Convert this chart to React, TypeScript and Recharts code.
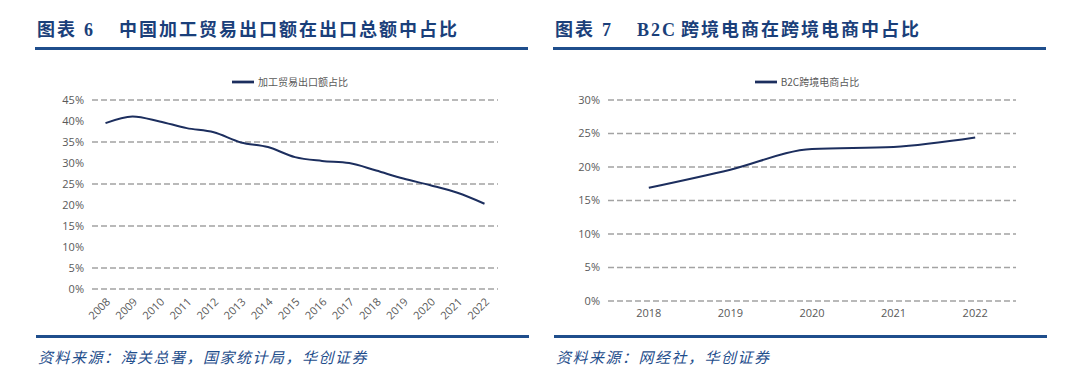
import React from "react";
import {
  LineChart,
  Line,
  XAxis,
  YAxis,
  CartesianGrid,
  Legend,
} from "recharts";

/* ---------------- DATA ---------------- */
const leftYears = [
  "2008", "2009", "2010", "2011", "2012", "2013", "2014", "2015",
  "2016", "2017", "2018", "2019", "2020", "2021", "2022",
];
const processingShare = [
  39.5, 41.1, 39.9, 38.3, 37.3, 34.9, 33.8, 31.4, 30.5, 30.0, 28.2, 26.3, 24.7, 22.9, 20.3,
];
const leftTicks = [0, 5, 10, 15, 20, 25, 30, 35, 40, 45];

const rightYears = ["2018", "2019", "2020", "2021", "2022"];
const b2cShare = [16.9, 19.6, 22.7, 23.0, 24.4];
const rightTicks = [0, 5, 10, 15, 20, 25, 30];

const leftData = leftYears.map((year, i) => ({ year, value: processingShare[i] }));
const rightData = rightYears.map((year, i) => ({ year, value: b2cShare[i] }));

/* ---------------- STYLE ---------------- */
const NAVY = "#1c2e5e";
const BLUE = "#1f4e8c";
const GRID = "#a3a3a3";
const TICK = { fill: "#595959", fontSize: 11, fontFamily: "'Open Sans', 'Noto Sans CJK SC'" };
const pct = (v: number) => `${v}%`;

function Title({ left, num, text }: { left: number; num: string; text: React.ReactNode }) {
  return (
    <>
      <div
        style={{
          position: "absolute",
          left,
          top: 21,
          fontSize: 18,
          lineHeight: "18px",
          fontWeight: 700,
          color: "#1a3f7a",
          letterSpacing: 2,
          whiteSpace: "nowrap",
          fontFamily: "'Liberation Serif', 'Noto Sans CJK SC'",
        }}
      >
        <span>图表</span>
        <span style={{ marginLeft: 7 }}>{num}</span>
        <span style={{ marginLeft: 24 }}>{text}</span>
      </div>
      <div style={{ position: "absolute", left: left - 2, top: 47, width: 493, height: 3, background: BLUE }} />
    </>
  );
}

function Footer({ left, text }: { left: number; text: string }) {
  return (
    <>
      <div style={{ position: "absolute", left: left - 2, top: 335, width: 493, height: 3, background: BLUE }} />
      <div
        style={{
          position: "absolute",
          left,
          top: 348,
          fontSize: 15,
          lineHeight: "18px",
          fontStyle: "italic",
          color: BLUE,
          letterSpacing: 1.5,
          whiteSpace: "nowrap",
          fontFamily: "'Noto Sans CJK SC'",
        }}
      >
        {text}
      </div>
    </>
  );
}

const legendStyle = { fontSize: 10, color: "#595959", fontFamily: "'Noto Sans CJK SC'" };

export default function App() {
  return (
    <div style={{ position: "absolute", left: 0, top: 0, width: 1080, height: 387, background: "#fff", overflow: "hidden" }}>
      <Title left={37} num="6" text="中国加工贸易出口额在出口总额中占比" />
      <Title left={555} num="7" text={<><span style={{ marginRight: 4 }}>B2C</span>跨境电商在跨境电商中占比</>} />

      {/* ================= LEFT CHART ================= */}
      <div style={{ position: "absolute", left: 0, top: 60 }}>
        <LineChart width={540} height={280} data={leftData} margin={{ top: 18, right: 42, left: 0, bottom: 11 }}>
          <CartesianGrid vertical={false} stroke={GRID} strokeWidth={1.3} strokeDasharray="6 3" />
          <XAxis
            dataKey="year"
            padding={{ left: 13.5, right: 13.5 }}
            axisLine={false}
            tickLine={false}
            interval={0}
            angle={-45}
            textAnchor="end"
            height={40}
            tick={TICK}
          />
          <YAxis
            width={92}
            domain={[0, 45]}
            ticks={leftTicks}
            tickFormatter={pct}
            axisLine={false}
            tickLine={false}
            tick={TICK}
          />
          <Legend
            verticalAlign="top"
            iconType="plainline"
            iconSize={22}
            wrapperStyle={{ top: 11, left: 92, width: 406 }}
            formatter={(v) => <span style={legendStyle}>{v}</span>}
          />
          <Line
            type="monotone"
            dataKey="value"
            name="加工贸易出口额占比"
            stroke={NAVY}
            strokeWidth={2}
            dot={false}
            isAnimationActive={false}
          />
        </LineChart>
      </div>

      {/* ================= RIGHT CHART ================= */}
      <div style={{ position: "absolute", left: 540, top: 60 }}>
        <LineChart width={540} height={280} data={rightData} margin={{ top: 18, right: 64, left: 0, bottom: 14 }}>
          <CartesianGrid vertical={false} stroke={GRID} strokeWidth={1.3} strokeDasharray="6 3" />
          <XAxis
            dataKey="year"
            padding={{ left: 40.8, right: 40.8 }}
            axisLine={false}
            tickLine={false}
            interval={0}
            height={25}
            tick={TICK}
          />
          <YAxis
            width={68}
            domain={[0, 30]}
            ticks={rightTicks}
            tickFormatter={pct}
            axisLine={false}
            tickLine={false}
            tick={TICK}
          />
          <Legend
            verticalAlign="top"
            iconType="plainline"
            iconSize={22}
            wrapperStyle={{ top: 11, left: 68, width: 408 }}
            formatter={(v) => <span style={legendStyle}>{v}</span>}
          />
          <Line
            type="monotone"
            dataKey="value"
            name="B2C跨境电商占比"
            stroke={NAVY}
            strokeWidth={2}
            dot={false}
            isAnimationActive={false}
          />
        </LineChart>
      </div>

      <Footer left={38} text="资料来源：海关总署，国家统计局，华创证券" />
      <Footer left={556} text="资料来源：网经社，华创证券" />
    </div>
  );
}
